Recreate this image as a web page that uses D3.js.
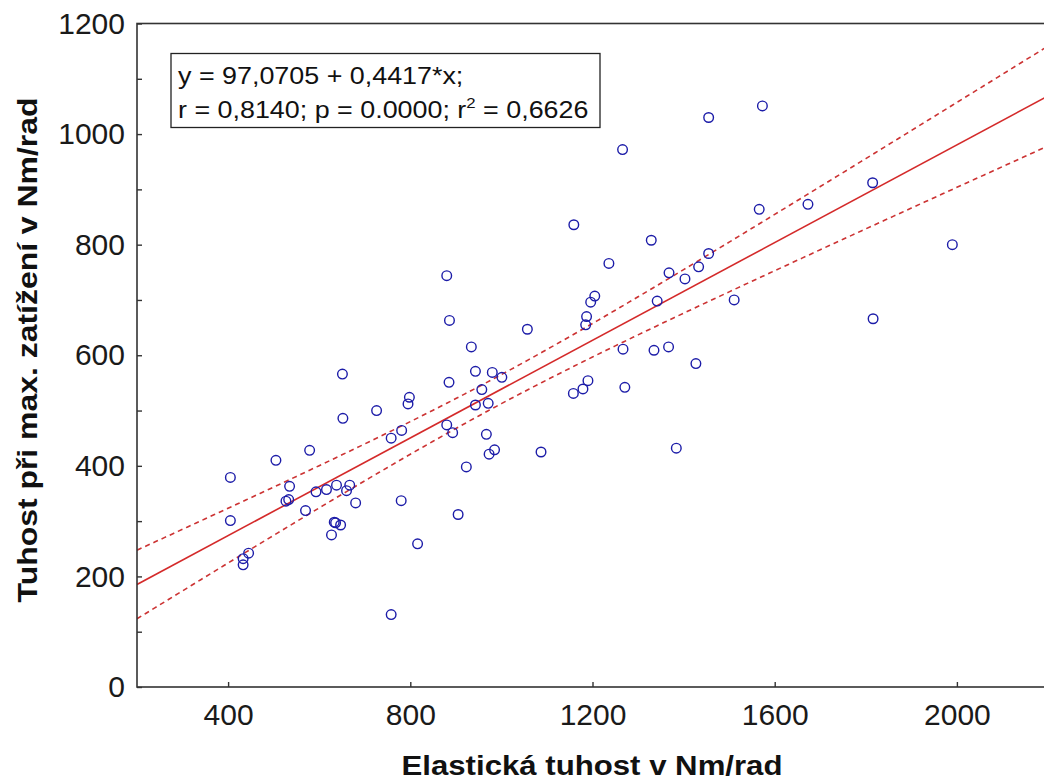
<!DOCTYPE html>
<html>
<head>
<meta charset="utf-8">
<script src="https://cdn.jsdelivr.net/npm/d3@7"></script>
<style>
  body { margin: 0; background: #fff; }
  svg { display: block; font-family: "Liberation Sans", Arial, sans-serif; }
</style>
</head>
<body>
<div id="chart"></div>
<script>
// Data: elastic stiffness (x) vs stiffness at max. load (y)
var xValues = [405, 405, 433, 433, 445, 505, 527, 533, 535, 570,
               579, 593, 616, 627, 633, 636, 638, 647, 651, 652,
               660, 667, 680, 726, 758, 758, 780, 781, 795, 798,
               816, 880, 880, 885, 886, 893, 905, 923, 934, 943,
               943, 957, 967, 971, 973, 980, 985, 1001, 1057, 1087,
               1158, 1159, 1179, 1185, 1187, 1190, 1196, 1205, 1236, 1266,
               1267, 1271, 1329, 1335, 1342, 1367, 1368, 1384, 1403, 1427,
               1433, 1455, 1455, 1511, 1566, 1573, 1673, 1815, 1816, 1990];
var yValues = [379, 301, 232, 221, 242, 410, 336, 339, 363, 319,
               428, 353, 357, 275, 298, 297, 365, 293, 566, 486,
               355, 365, 333, 500, 450, 131, 337, 464, 512, 524,
               259, 744, 474, 551, 663, 460, 312, 398, 615, 571,
               510, 538, 457, 513, 421, 569, 429, 560, 647, 425,
               531, 836, 539, 655, 670, 554, 696, 707, 766, 972,
               611, 542, 808, 609, 698, 615, 749, 432, 738, 585,
               760, 784, 1030, 700, 864, 1051, 873, 912, 666, 800];

// Regression reported in the chart
var intercept = 97.0705;
var slope = 0.4417;
var statLines = ["y = 97,0705 + 0,4417*x;", "r = 0,8140; p = 0.0000; r"];

var xTicks = [400, 800, 1200, 1600, 2000];
var yTicks = d3.range(0, 1201, 100);

var xTitle = "Elastická tuhost v Nm/rad";
var yTitle = "Tuhost při max. zatížení v Nm/rad";

var W = 1044, H = 780;
var plotLeft = 137, plotRight = 1048, plotTop = 23.5, plotBottom = 687;

var svg = d3.select("#chart").append("svg")
    .attr("width", W)
    .attr("height", H);

var xScale = d3.scaleLinear().domain([200, 2200]).range([plotLeft, plotRight]);
var yScale = d3.scaleLinear().domain([0, 1200]).range([plotBottom, plotTop]);

svg.append("clipPath").attr("id", "clip")
    .append("rect")
    .attr("x", plotLeft).attr("y", plotTop)
    .attr("width", plotRight - plotLeft).attr("height", plotBottom - plotTop);

// Confidence band for the fitted line (95 %)
var n = xValues.length;
var xMean = d3.mean(xValues);
var sxx = d3.sum(xValues, function (v) { return (v - xMean) * (v - xMean); });
var sse = d3.sum(xValues, function (v, i) {
    var r = yValues[i] - (intercept + slope * v);
    return r * r;
});
var s = Math.sqrt(sse / (n - 2));
var tVal = 1.991;

var grid = d3.range(200, 2201, 10);
function halfWidth(v) {
    return tVal * s * Math.sqrt(1 / n + (v - xMean) * (v - xMean) / sxx);
}

var plot = svg.append("g").attr("clip-path", "url(#clip)");

var line = d3.line()
    .x(function (d) { return xScale(d[0]); })
    .y(function (d) { return yScale(d[1]); });

plot.append("path")
    .datum(grid.map(function (v) { return [v, intercept + slope * v + halfWidth(v)]; }))
    .attr("d", line)
    .attr("fill", "none")
    .attr("stroke", "#cc3333")
    .attr("stroke-width", 1.6)
    .attr("stroke-dasharray", "5,4");

plot.append("path")
    .datum(grid.map(function (v) { return [v, intercept + slope * v - halfWidth(v)]; }))
    .attr("d", line)
    .attr("fill", "none")
    .attr("stroke", "#cc3333")
    .attr("stroke-width", 1.6)
    .attr("stroke-dasharray", "5,4");

plot.append("path")
    .datum([[200, intercept + slope * 200], [2200, intercept + slope * 2200]])
    .attr("d", line)
    .attr("fill", "none")
    .attr("stroke", "#d42a2a")
    .attr("stroke-width", 1.6);

// Points
plot.selectAll("circle")
    .data(xValues)
    .enter()
    .append("circle")
    .attr("cx", function (d) { return xScale(d); })
    .attr("cy", function (d, i) { return yScale(yValues[i]); })
    .attr("r", 4.8)
    .attr("fill", "none")
    .attr("stroke", "#1c1ca8")
    .attr("stroke-width", 1.4);

// Frame
svg.append("rect")
    .attr("x", plotLeft).attr("y", plotTop)
    .attr("width", plotRight - plotLeft).attr("height", plotBottom - plotTop)
    .attr("fill", "none")
    .attr("stroke", "#333")
    .attr("stroke-width", 1.6);

// Axes
var xAxis = svg.append("g")
    .attr("transform", "translate(0," + plotBottom + ")")
    .call(d3.axisBottom(xScale).tickValues(xTicks).tickSize(-5).tickSizeOuter(0).tickPadding(17)
        .tickFormat(d3.format("d")));
xAxis.select(".domain").remove();
xAxis.selectAll("line").attr("stroke", "#333").attr("stroke-width", 1.4);
xAxis.selectAll("text").attr("font-size", 30).attr("fill", "#1a1a1a")
    .attr("font-family", "Liberation Sans, Arial, sans-serif");

var yAxis = svg.append("g")
    .attr("transform", "translate(" + plotLeft + ",0)")
    .call(d3.axisLeft(yScale).tickValues(yTicks).tickSize(-5).tickSizeOuter(0).tickPadding(12)
        .tickFormat(function (d) { return d % 200 === 0 ? d : ""; }));
yAxis.select(".domain").remove();
yAxis.selectAll("line").attr("stroke", "#333").attr("stroke-width", 1.4);
yAxis.selectAll("text").attr("font-size", 30).attr("fill", "#1a1a1a")
    .attr("font-family", "Liberation Sans, Arial, sans-serif");

// Axis titles
svg.append("text")
    .attr("x", 592).attr("y", 775)
    .attr("text-anchor", "middle")
    .attr("font-size", 28)
    .attr("font-weight", "bold")
    .attr("fill", "#111")
    .attr("textLength", 381)
    .attr("lengthAdjust", "spacingAndGlyphs")
    .text(xTitle);

svg.append("text")
    .attr("transform", "translate(37," + 350 + ") rotate(-90)")
    .attr("text-anchor", "middle")
    .attr("font-size", 28)
    .attr("font-weight", "bold")
    .attr("fill", "#111")
    .attr("textLength", 505)
    .attr("lengthAdjust", "spacingAndGlyphs")
    .text(yTitle);

// Statistics box
svg.append("rect")
    .attr("x", 171).attr("y", 53.5)
    .attr("width", 429).attr("height", 74)
    .attr("fill", "#fff")
    .attr("stroke", "#222")
    .attr("stroke-width", 1.3);

var stats = svg.append("g")
    .attr("transform", "translate(178,0) scale(1.12,1)");

stats.append("text")
    .attr("x", 0).attr("y", 84)
    .attr("font-size", 24)
    .attr("fill", "#111")
    .text(statLines[0]);

var t2 = stats.append("text")
    .attr("x", 0).attr("y", 118)
    .attr("font-size", 24)
    .attr("fill", "#111");
t2.append("tspan").text(statLines[1]);
t2.append("tspan").attr("font-size", 15).attr("dy", -10).text("2");
t2.append("tspan").attr("dy", 10).text(" = 0,6626");
</script>
</body>
</html>
